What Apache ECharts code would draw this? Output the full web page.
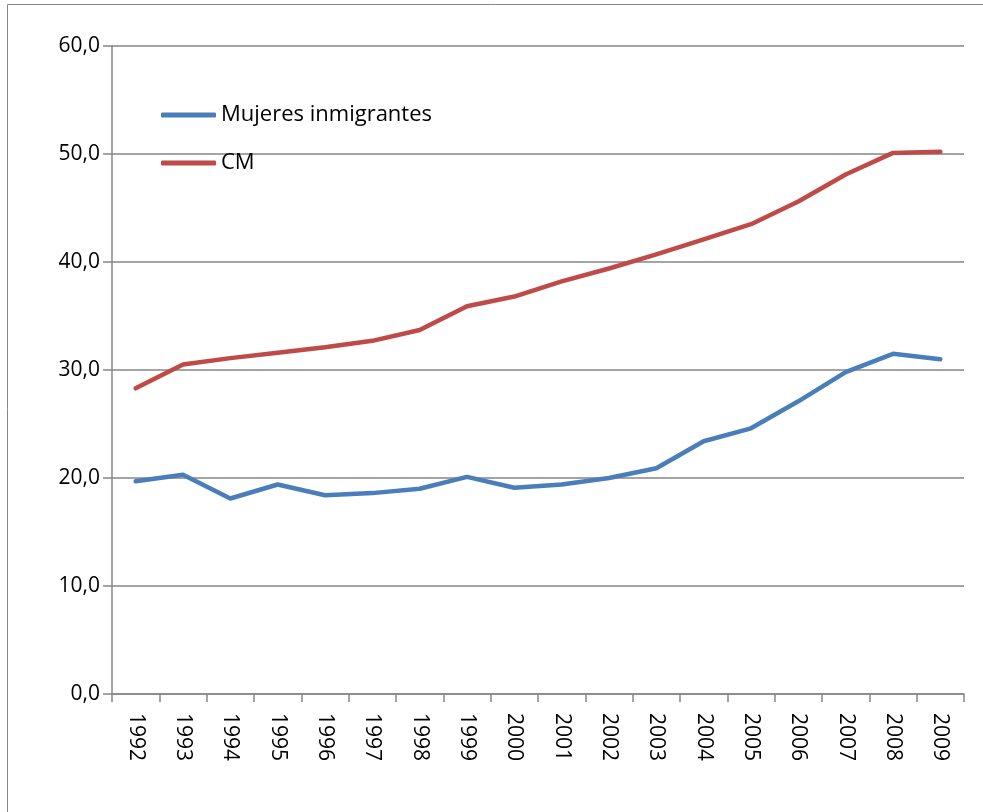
<!DOCTYPE html>
<html>
<head>
<meta charset="utf-8">
<script src="https://cdn.jsdelivr.net/npm/echarts@6/dist/echarts.min.js"></script>
<style>
  html, body { margin: 0; padding: 0; background: #fff; }
  #chart { width: 983px; height: 812px; }
</style>
</head>
<body>
<div id="chart"></div>
<script>
// Years on the category axis
const years = ['1992','1993','1994','1995','1996','1997','1998','1999','2000',
               '2001','2002','2003','2004','2005','2006','2007','2008','2009'];

// Series values
const mujeresInmigrantes = [19.7, 20.3, 18.1, 19.4, 18.4, 18.6, 19.0, 20.1, 19.1,
                            19.4, 20.0, 20.9, 23.4, 24.6, 27.1, 29.8, 31.5, 31.0];
const cm = [28.3, 30.5, 31.1, 31.6, 32.1, 32.7, 33.7, 35.9, 36.8,
            38.2, 39.4, 40.7, 42.1, 43.5, 45.6, 48.1, 50.1, 50.2];

const seriesNames = ['Mujeres inmigrantes', 'CM'];

const FONT = '"Open Sans", "Noto Sans", Lato, sans-serif';
const AXIS_GRAY = '#868686';

const chart = echarts.init(document.getElementById('chart'), null, { renderer: 'canvas' });

chart.setOption({
  animation: false,
  backgroundColor: '#ffffff',
  textStyle: { fontFamily: FONT },
  graphic: [{
    type: 'rect',
    shape: { x: 7.5, y: 4.5, width: 1100, height: 1000 },
    style: { fill: 'none', stroke: AXIS_GRAY, lineWidth: 1 },
    silent: true
  }],
  grid: { left: 112, right: 19, top: 46, bottom: 118, containLabel: false },
  legend: {
    orient: 'vertical',
    left: 156,
    top: 99,
    itemWidth: 55,
    itemHeight: 5,
    itemGap: 26,
    icon: 'roundRect',
    textStyle: { fontFamily: FONT, fontSize: 22, color: '#000', lineHeight: 22, padding: [0, 0, 0, 0] },
    data: seriesNames
  },
  xAxis: {
    type: 'category',
    data: years,
    boundaryGap: true,
    axisLine: { show: true, lineStyle: { color: AXIS_GRAY, width: 1.5 } },
    axisTick: { show: true, length: 8, lineStyle: { color: AXIS_GRAY, width: 1.5 } },
    axisLabel: {
      rotate: -90,
      margin: 19,
      fontFamily: FONT,
      fontSize: 21,
      color: '#000',
      interval: 0
    },
    splitLine: { show: false }
  },
  yAxis: {
    type: 'value',
    min: 0,
    max: 60,
    interval: 10,
    axisLine: { show: true, lineStyle: { color: AXIS_GRAY, width: 1.5 } },
    axisTick: { show: true, inside: false, length: 9, lineStyle: { color: AXIS_GRAY, width: 1.5 } },
    axisLabel: {
      margin: 12,
      fontFamily: FONT,
      fontSize: 21,
      color: '#000',
      formatter: v => v.toFixed(1).replace('.', ',')
    },
    splitLine: { show: true, lineStyle: { color: AXIS_GRAY, width: 1.5 } }
  },
  series: [
    {
      name: seriesNames[0],
      type: 'line',
      data: mujeresInmigrantes,
      symbol: 'none',
      itemStyle: { color: '#4A7EBB' },
      lineStyle: { color: '#4A7EBB', width: 4.5, cap: 'round', join: 'round' }
    },
    {
      name: seriesNames[1],
      type: 'line',
      data: cm,
      symbol: 'none',
      itemStyle: { color: '#BE4B48' },
      lineStyle: { color: '#BE4B48', width: 4.5, cap: 'round', join: 'round' }
    }
  ]
});
</script>
</body>
</html>
